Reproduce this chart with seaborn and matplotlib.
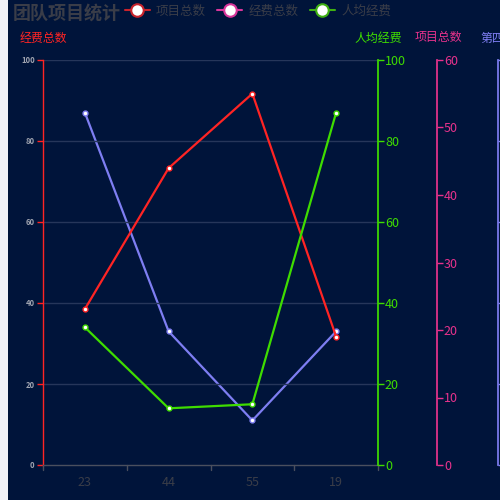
import numpy as np
import pandas as pd
import seaborn as sns
import matplotlib.pyplot as plt
from matplotlib.lines import Line2D
from matplotlib.patches import Rectangle

categories = ['23', '44', '55', '19']
red_values = [38.5, 73.3, 91.7, 31.7]
purple_values = [87, 33, 11, 33]
green_values = [34, 14, 15, 87]

legend_names = ['项目总数', '经费总数', '人均经费']
legend_colors = ['#c8232c', '#d8359a', '#3fb012']

bg = '#00143a'
grid_c = '#26365a'
red = '#ff2424'
purple = '#7e7ef2'
green = '#3fdd00'
pink = '#e8328c'

sns.set_theme(style='dark')
plt.rcParams['font.family'] = ['Noto Sans CJK SC', 'DejaVu Sans']

fig = plt.figure(figsize=(5, 5), dpi=100)
fig.patch.set_facecolor(bg)
fig.patches.append(Rectangle((0, 0), 8 / 500, 1, transform=fig.transFigure,
                             facecolor='#f2f3f8', edgecolor='none'))

ax = fig.add_axes([43 / 500, 35 / 500, 335 / 500, 405 / 500])
ax.set_facecolor(bg)

df = pd.DataFrame({'x': categories, 'red': red_values,
                   'purple': purple_values, 'green': green_values})

mk = dict(marker='o', markersize=3.5, markerfacecolor='white', markeredgewidth=1)

# left axis: red series
sns.lineplot(data=df, x='x', y='red', ax=ax, color=red, linewidth=1.6,
             markeredgecolor=red, sort=False, **mk)
ax.set_ylim(0, 100)
ax.set_yticks(range(0, 101, 20))
ax.set_xlim(-0.5, 3.5)
ax.set_xlabel('')
ax.set_ylabel('')
ax.grid(False)
for v in range(20, 101, 20):
    ax.axhline(v, color=grid_c, linewidth=1, zorder=0)
for s in ['top', 'right']:
    ax.spines[s].set_visible(False)
ax.spines['left'].set_color(red)
ax.spines['left'].set_linewidth(1)
ax.spines['bottom'].set_color('#4a4f5e')
ax.spines['bottom'].set_linewidth(1)
ax.tick_params(axis='y', colors=red, length=4, width=1, left=True,
               labelsize=5.5, labelcolor='#a0a4b0', pad=2)
for t in ax.get_yticklabels():
    t.set_fontweight('bold')
ax.set_xticks([0, 1, 2, 3])
ax.set_xticklabels(categories)
ax.tick_params(axis='x', length=0, labelsize=9, labelcolor='#3a3d48', pad=8)
for b in [-0.5, 0.5, 1.5, 2.5, 3.5]:
    ax.plot([b, b], [0, -0.012], transform=ax.get_xaxis_transform(),
            color='#4a4f5e', linewidth=1, clip_on=False)

# green axis
ax2 = ax.twinx()
sns.lineplot(data=df, x='x', y='green', ax=ax2, color=green, linewidth=1.6,
             markeredgecolor=green, sort=False, **mk)
ax2.set_ylim(0, 100)
ax2.set_yticks(range(0, 101, 20))
ax2.set_ylabel('')
ax2.grid(False)
for s in ['top', 'left', 'bottom']:
    ax2.spines[s].set_visible(False)
ax2.spines['right'].set_color(green)
ax2.tick_params(axis='y', colors=green, length=4, width=1, right=True,
                labelsize=9, pad=1)

# pink axis
ax3 = ax.twinx()
ax3.set_ylim(0, 60)
ax3.set_yticks(range(0, 61, 10))
ax3.spines['right'].set_position(('axes', 1 + 59 / 335))
for s in ['top', 'left', 'bottom']:
    ax3.spines[s].set_visible(False)
ax3.spines['right'].set_color(pink)
ax3.tick_params(axis='y', colors=pink, length=4, width=1, right=True,
                labelsize=9, pad=1)
ax3.grid(False)

# fourth (purple) axis, its labels fall outside the canvas
ax4 = ax.twinx()
sns.lineplot(data=df, x='x', y='purple', ax=ax4, color=purple, linewidth=1.6,
             markeredgecolor=purple, sort=False, **mk)
ax4.set_ylim(0, 100)
ax4.set_yticks(range(0, 101, 20))
ax4.set_ylabel('')
ax4.spines['right'].set_position(('axes', 1 + 120 / 335))
for s in ['top', 'left', 'bottom']:
    ax4.spines[s].set_visible(False)
ax4.spines['right'].set_color(purple)
ax4.tick_params(axis='y', colors=purple, length=4, width=1, right=True,
                labelright=False)
ax4.grid(False)
ax.set_zorder(3)
ax.patch.set_visible(False)
ax2.set_zorder(4)
ax4.set_zorder(2)

# axis names
fig.text(20 / 500, 1 - 38 / 500, '经费总数', color=red, fontsize=8.6, va='center')
fig.text(378 / 500, 1 - 38 / 500, '人均经费', color=green, fontsize=8.6, va='center', ha='center')
fig.text(438 / 500, 1 - 38 / 500, '项目总数', color=pink, fontsize=8.6, va='center', ha='center')
fig.text(480 / 500, 1 - 38 / 500, '第四', color=purple, fontsize=8.6, va='center', ha='left')

fig.text(13 / 500, 1 - 13 / 500, '团队项目统计', color='#3a3d48', fontsize=13,
         fontweight='bold', va='center')

handles = [Line2D([0], [0], color=c, linewidth=1.5, marker='o', markersize=9,
                  markerfacecolor='white', markeredgecolor=c, markeredgewidth=1.5)
           for c in legend_colors]
leg = fig.legend(handles, legend_names, loc='center', ncol=3, frameon=False,
                 bbox_to_anchor=(258 / 500, 1 - 11 / 500), fontsize=9,
                 handlelength=2.0, handletextpad=0.5, columnspacing=0.9)
for t in leg.get_texts():
    t.set_color('#3a3d48')

fig.savefig('out.png', dpi=100, facecolor=bg)
